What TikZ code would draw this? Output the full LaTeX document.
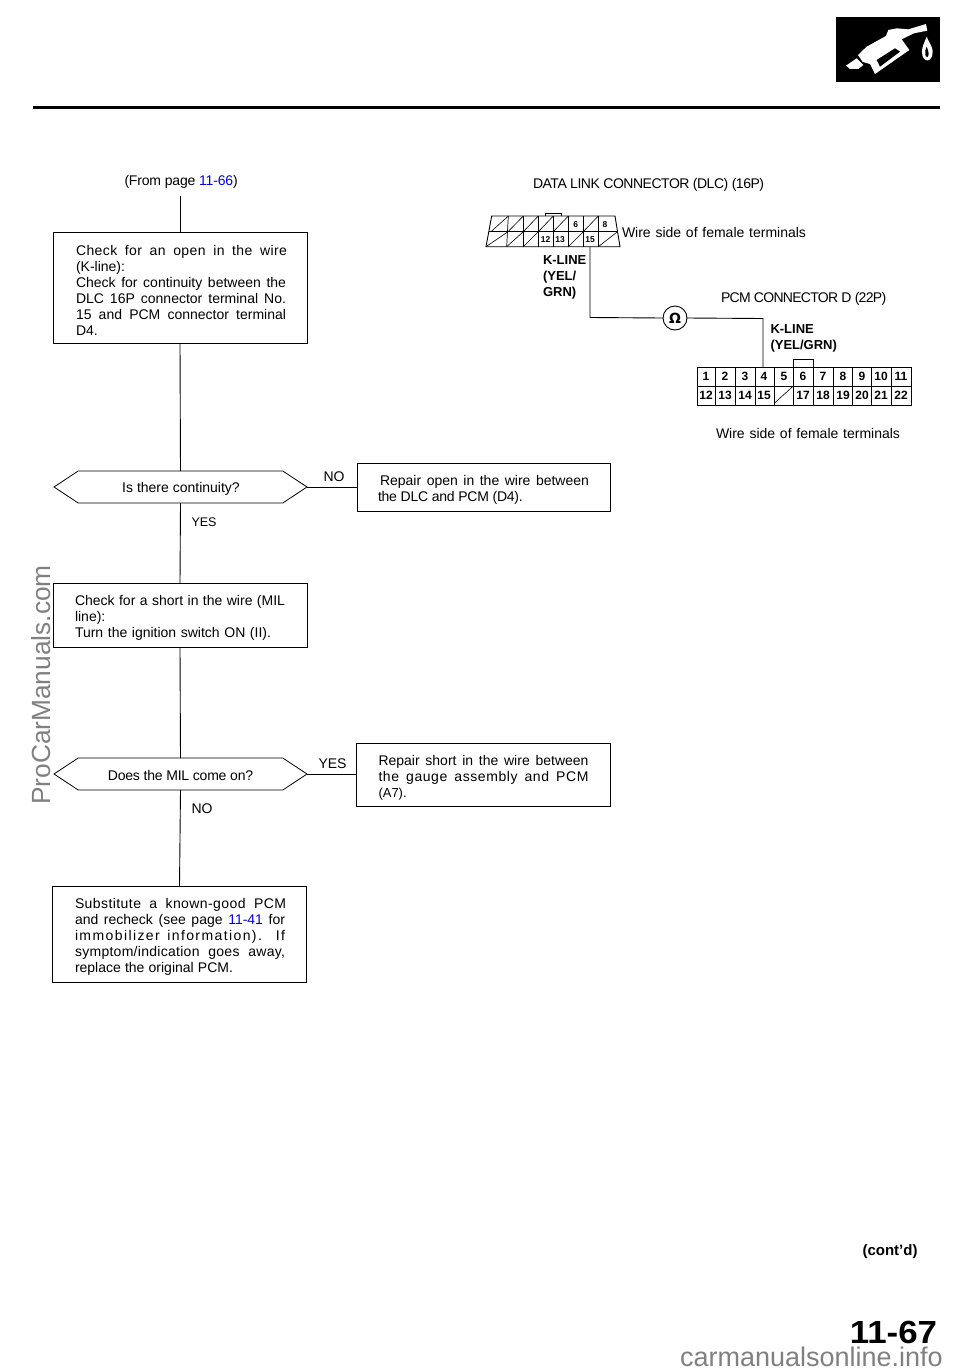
\documentclass[tikz,border=0pt]{standalone}
\usepackage{fontspec}
\setmainfont{Liberation Sans}
\usetikzlibrary{shapes.symbols}
\definecolor{linkblue}{RGB}{0,0,230}
\definecolor{wm}{RGB}{128,128,128}
\newcommand{\js}[2]{\makebox[#1pt][s]{#2}}
\newcommand{\lk}[1]{\textcolor{linkblue}{#1}}
\newcommand{\ls}[2]{{\addfontfeature{LetterSpace=#1}#2}}
\tikzset{
 x=1pt,y=-1pt,
 every node/.style={inner sep=0pt,outer sep=0pt},
 body/.style={font=\fontsize{14}{16}\selectfont,align=left},
 box/.style={draw,line width=.8pt},
 dec/.style={draw,line width=.8pt,shape=signal,signal to=west and east,signal pointer angle=67,minimum height=32pt},
 wire/.style={line width=.9pt},
 lab/.style={font=\fontsize{14}{16}\selectfont,anchor=west},
 kl/.style={font=\fontsize{13}{16}\bfseries\selectfont,align=left,anchor=north west},
 dn/.style={font=\fontsize{8.5}{10}\bfseries\selectfont},
 pn/.style={font=\fontsize{12}{12}\bfseries\selectfont},
}
\begin{document}
\begin{tikzpicture}
\useasboundingbox (0,0) rectangle (960,1371);
% header
\draw[line width=3pt] (33,107) -- (940,107);
\fill (836,17) rectangle (940,82);
\begin{scope}[shift={(820,0)},x=.3333pt,y=-.3333pt]
\fill[white] (318,72) -- (322,92) -- (282,100) -- (245,118) -- (268,150) -- (165,222) -- (150,192) -- (128,186) -- (114,165) -- (140,140) -- (198,108) -- (205,90) -- (230,85) -- (265,88) -- cycle;
\fill (170,180) -- (225,145) -- (240,155) -- (180,200) -- cycle;
\fill[white] (110,175) -- (78,197) -- (90,207) -- (115,207) -- (130,195) -- cycle;
\fill[white] (320,110) .. controls (312,130) and (306,140) .. (306,155) .. controls (306,190) and (338,190) .. (338,155) .. controls (338,140) and (328,130) .. (320,110) -- cycle;
\fill (320,140) .. controls (316,150) and (314,155) .. (316,165) .. controls (320,175) and (326,172) .. (326,160) .. controls (326,152) and (322,148) .. (320,140) -- cycle;
\end{scope}
% flow nodes
\node[lab] (from) at (124.5,182) {\ls{-1.3}{(From page \lk{11-66})}};
\node[box,minimum width=254pt,minimum height=111pt] (b1) at (180,287.5) {};
\node[body] (b1t) at (181.5,290.5) {\js{211}{\ls{3}{Check for an open in the wire}}\\(K-line):\\\js{210}{Check for continuity between the}\\\js{210}{DLC 16P connector terminal No.}\\\js{210}{15 and PCM connector terminal}\\D4.};
\node[dec,minimum width=253pt] (d1) at (180.5,487) {};
\node[font=\fontsize{14}{16}\selectfont] (d1t) at (181,489) {Is there continuity?};
\node[box,minimum width=253pt,minimum height=48pt] (r1) at (483.5,487) {};
\node[body] (r1t) at (483.5,490) {\hspace*{2pt}\js{209}{Repair open in the wire between}\\\ls{-1.7}{the DLC and PCM (D4).}};
\node[box,minimum width=254pt,minimum height=64pt] (b2) at (180,615) {};
\node[body] (b2t) at (180,617.5) {\js{210}{Check for a short in the wire (MIL}\\line):\\\js{196}{Turn the ignition switch ON (II).}\hspace{14pt}};
\node[dec,minimum width=253pt] (d2) at (180.5,774) {};
\node[font=\fontsize{14}{16}\selectfont] (d2t) at (180.5,775) {\ls{-1.5}{Does the MIL come on?}};
\node[box,minimum width=254pt,minimum height=63pt] (r2) at (483,774.5) {};
\node[body] (r2t) at (483.5,777.5) {\js{210}{Repair short in the wire between}\\\js{210}{\ls{4}{the gauge assembly and PCM}}\\{\fontsize{13}{16}\selectfont (A7).}};
\node[box,minimum width=254pt,minimum height=96pt] (b3) at (179.5,934) {};
\node[body] (b3t) at (180.5,937) {\js{211}{\ls{3}{Substitute a known-good PCM}}\\\js{210}{and recheck (see page \lk{11-41} for}\\\js{210}{\ls{10}{immobilizer information). If}}\\\js{210}{\ls{2}{symptom/indication goes away,}}\\\js{158}{replace the original PCM.}\hspace{52pt}};
\coordinate (start) at (180,196);
\draw[wire] (start) -- (b1.north);
\draw[wire] (b1.south) -- (d1.north);
\draw[wire] (d1.south) -- (b2.north);
\draw[wire] (b2.south) -- (d2.north);
\draw[wire] (d2.south) -- (b3.north);
\draw[wire] (d1.east) -- (r1.west);
\draw[wire] (d2.east) -- (d2.east -| r2.west);
\node[lab] (no1) at (323.5,477) {NO};
\node[lab] (yes2) at (318.5,764) {YES};
\node[lab,font=\fontsize{12.5}{16}\selectfont] (yes1) at (191.5,522) {YES};
\node[lab] (no2) at (191.5,809) {NO};
% right side labels
\node[lab] (dlc) at (533,185) {\ls{-3.4}{DATA LINK CONNECTOR (DLC) (16P)}};
\node[lab] (ws1) at (622,232.5) {\js{184}{Wire side of female terminals}};
\node[lab] (pcmt) at (721,299) {\ls{-5}{PCM CONNECTOR D (22P)}};
\node[lab] (ws2) at (716,433.5) {\js{184}{Wire side of female terminals}};
\node[kl] (kl1) at (543,256) {K-LINE\\(YEL/\\GRN)};
\node[kl] (kl2) at (770.5,324.5) {K-LINE\\(YEL/GRN)};
% DLC connector
\draw[line width=.8pt] (545,216) -- (545,213.5) -- (561.5,213.5) -- (561.5,216);
\draw[line width=.9pt] (491.7,216) -- (615,216) -- (620,246.7) -- (486,246.7) -- cycle;
\draw[line width=.8pt] (489,231.7) -- (617.5,231.7);
\foreach \a/\b in {508.3/506.7,523.3/523.3,538.3/538.3,553.3/553.3,568.3/568.3,583.3/583.3,598.3/598.3}
  \draw[line width=.7pt] (\a,216) -- (\b,246.7);
\foreach \a/\b/\c/\d in {
 491/231.7/508.3/216, 508/231.7/523.3/216, 523.3/231.7/538.3/216, 538.3/231.7/553.3/216, 553.3/231.7/568.3/216, 583.3/231.7/598.3/216,
 486/246.7/508/231.7, 506.7/246.7/523.3/231.7, 523.3/246.7/538.3/231.7, 568.3/246.7/583.3/231.7, 598.3/246.7/617.5/231.7}
  \draw[line width=.6pt] (\a,\b) -- (\c,\d);
\node[dn] (t6) at (575.7,225) {6};
\node[dn] (t8) at (605,225) {8};
\node[dn] (t12) at (545.7,239.5) {12};
\node[dn] (t13) at (560,239.5) {13};
\node[dn] (t15) at (590,239.5) {15};
% meter wires
\node[draw,circle,line width=.9pt,minimum size=24pt,font=\fontsize{14}{14}\bfseries\selectfont] (ohm) at (675,318) {\fontspec{DejaVu Sans}\bfseries Ω};
\coordinate (w1) at (590,317.5);
\coordinate (w2) at (763,318.5);
% PCM connector
\node[draw,line width=.9pt,minimum width=214pt,minimum height=38pt] (pcm) at (804,386) {};
\draw[line width=.8pt] (793.3,367) -- (793.3,359) -- (813.3,359) -- (813.3,367);
\draw[line width=.8pt] (697,386) -- (911,386);
\foreach \a in {715,735,755,774,793.3,813.3,833,852.7,871.7,891.7}
  \draw[line width=.7pt] (\a,367) -- (\a,405);
\draw[line width=.6pt] (774,403.5) -- (793.3,386);
\foreach \n/\x in {1/706,2/725,3/745,4/764,5/784,6/803,7/823,8/843,9/862,10/881,11/901}
  \node[pn] (p\n) at (\x,376.5) {\n};
\foreach \n/\x in {12/706,13/725,14/745,15/764,17/803,18/823,19/843,20/862,21/881,22/901}
  \node[pn] (p\n) at (\x,395) {\n};
\draw[wire] (t15.south |- 0,246.7) -- (w1) -- (ohm.west);
\draw[wire] (ohm.east) -- (w2) -- (w2 |- pcm.north);
% footer
\node[font=\fontsize{15}{16}\bfseries\selectfont] (cont) at (890,1252) {(cont’d)};
\node[font=\fontsize{32}{33}\bfseries\selectfont] (pg) at (893.5,1332) {\scalebox{1.09}[1]{11-67}};
% watermarks
\node[font=\fontsize{26.3}{28}\selectfont,text=wm,rotate=90] (wm1) at (41,685) {ProCarManuals.com};
\node[font=\fontsize{27}{28}\selectfont,text=wm,anchor=base west] (wm2) at (680,1366) {carmanualsonline.info};
\end{tikzpicture}
\end{document}
